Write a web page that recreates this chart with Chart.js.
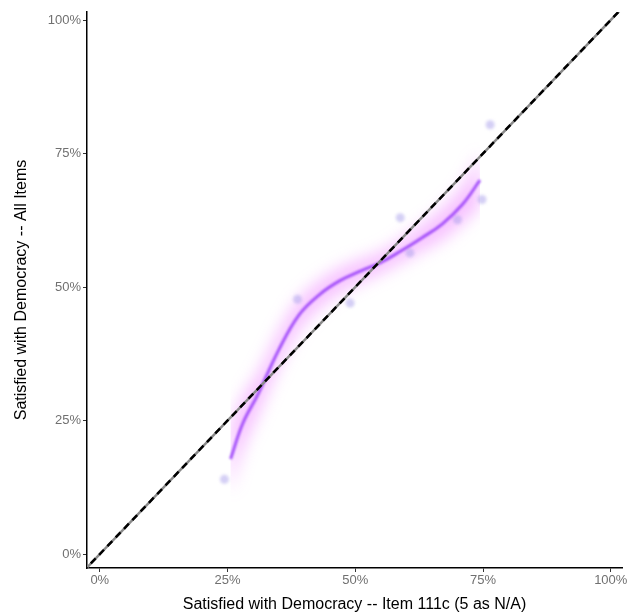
<!DOCTYPE html>
<html>
<head>
<meta charset="utf-8">
<script src="https://cdn.jsdelivr.net/npm/chart.js@4.4.1/dist/chart.umd.min.js"></script>
<style>
  html, body { margin: 0; padding: 0; background: #fff; }
  #wrap { width: 644px; height: 616px; }
</style>
</head>
<body>
<div id="wrap"><canvas id="myChart" width="644" height="616"></canvas></div>
<script>
// country points: item 111c share vs all-items share (%)
var pointsX = [24.4, 38.7, 49.0, 58.8, 60.7, 70.0, 74.8, 76.4];
var pointsY = [14.0, 47.7, 47.0, 63.0, 56.4, 62.6, 66.4, 80.4];

// loess smooth + band
var smoothX = [25.6, 28, 31, 35, 39, 43, 47, 51, 55, 59, 63, 67, 71, 74.4];
var smoothY = [17.8, 24.5, 30.0, 38.2, 44.8, 48.6, 51.2, 53.0, 54.6, 56.8, 59.2, 61.8, 65.5, 70.0];
var bandLo  = [11.5, 19.5, 26.0, 34.8, 41.8, 46.0, 48.8, 50.8, 52.6, 54.6, 56.7, 58.8, 61.9, 65.0];
var bandHi  = [24.1, 29.5, 34.0, 41.6, 47.8, 51.2, 53.6, 55.2, 56.6, 59.0, 61.7, 64.8, 69.1, 75.0];

var refX = [-5, 105];
var refY = [-5, 105];

var tickVals = [0, 25, 50, 75, 100];

function xy(xs, ys) {
  var out = [];
  for (var i = 0; i < xs.length; i++) out.push({x: xs[i], y: ys[i]});
  return out;
}

// soft blur like the original. the filler paints the band before our
// beforeDatasetDraw runs, so the filter for it is switched on after the
// previous dataset ('lo') and switched off after 'hi'.
var blurPlugin = {
  id: 'blurPlugin',
  beforeDatasetDraw: function(chart, args) {
    var ds = chart.data.datasets[args.index];
    if (ds.blur) {
      chart.ctx.save();
      chart.ctx.filter = 'blur(' + ds.blur + 'px)';
    }
  },
  afterDatasetDraw: function(chart, args) {
    var ds = chart.data.datasets[args.index];
    if (ds.blur) chart.ctx.restore();
    if (ds.fillBlurEnd) chart.ctx.restore();
    if (ds.fillBlurStart) {
      chart.ctx.save();
      chart.ctx.filter = 'blur(' + ds.fillBlurStart + 'px)';
    }
  }
};

var pctTicks = function(value) { return value + '%'; };

var ctx = document.getElementById('myChart').getContext('2d');
var myChart = new Chart(ctx, {
  type: 'scatter',
  data: {
    datasets: [
      {
        label: 'lo',
        data: xy(smoothX, bandLo),
        showLine: true,
        pointRadius: 0,
        borderWidth: 0,
        borderColor: 'rgba(0,0,0,0)',
        tension: 0.4,
        fillBlurStart: 8,
        order: 5
      },
      {
        label: 'hi',
        data: xy(smoothX, bandHi),
        showLine: true,
        pointRadius: 0,
        borderWidth: 0,
        borderColor: 'rgba(0,0,0,0)',
        backgroundColor: 'rgba(235, 110, 255, 0.42)',
        fill: '-1',
        tension: 0.4,
        fillBlurEnd: true,
        order: 4
      },
      {
        label: 'points',
        data: xy(pointsX, pointsY),
        pointRadius: 4.5,
        pointBackgroundColor: 'rgba(170, 160, 235, 0.5)',
        pointBorderWidth: 0,
        blur: 1.8,
        order: 3
      },
      {
        label: 'smooth',
        data: xy(smoothX, smoothY),
        showLine: true,
        pointRadius: 0,
        borderColor: 'rgba(160, 75, 250, 0.95)',
        borderWidth: 3,
        tension: 0.4,
        blur: 0.8,
        order: 2
      },
      {
        label: 'ref gray',
        data: xy(refX, refY),
        showLine: true,
        pointRadius: 0,
        borderColor: '#8a8a8a',
        borderWidth: 2.5,
        order: 1
      },
      {
        label: 'ref',
        data: xy(refX, refY),
        showLine: true,
        pointRadius: 0,
        borderColor: '#000',
        borderWidth: 2.5,
        borderDash: [7, 5],
        order: 0
      }
    ]
  },
  options: {
    responsive: false,
    animation: false,
    layout: { padding: { top: 12, right: 22, left: 0, bottom: 0 } },
    plugins: {
      legend: { display: false },
      tooltip: { enabled: false }
    },
    scales: {
      x: {
        type: 'linear',
        min: -2.5,
        max: 102.2,
        afterBuildTicks: function(axis) {
          axis.ticks = tickVals.map(function(v) { return {value: v}; });
        },
        afterFit: function(axis) { axis.height = 48; },
        grid: { drawOnChartArea: false, tickLength: 4, color: '#333', lineWidth: 1 },
        border: { display: true, color: '#000', width: 1.5 },
        ticks: {
          callback: pctTicks,
          color: '#707070',
          padding: 1,
          maxRotation: 0,
          font: { family: 'Liberation Sans, Arial, sans-serif', size: 13 }
        },
        title: {
          display: true,
          text: 'Satisfied with Democracy -- Item 111c (5 as N/A)',
          color: '#000',
          padding: { top: 0, bottom: 2 },
          font: { family: 'Liberation Sans, Arial, sans-serif', size: 16 }
        }
      },
      y: {
        type: 'linear',
        min: -2.6,
        max: 101.5,
        afterBuildTicks: function(axis) {
          axis.ticks = tickVals.map(function(v) { return {value: v}; });
        },
        afterFit: function(axis) { axis.width = 87; },
        grid: { drawOnChartArea: false, tickLength: 4, color: '#333', lineWidth: 1 },
        border: { display: true, color: '#000', width: 1.5 },
        ticks: {
          callback: pctTicks,
          color: '#707070',
          padding: 2,
          font: { family: 'Liberation Sans, Arial, sans-serif', size: 13 }
        },
        title: {
          display: true,
          text: 'Satisfied with Democracy -- All Items',
          color: '#000',
          padding: { top: 12, bottom: 0 },
          font: { family: 'Liberation Sans, Arial, sans-serif', size: 16 }
        }
      }
    }
  },
  plugins: [blurPlugin]
});
</script>
</body>
</html>
